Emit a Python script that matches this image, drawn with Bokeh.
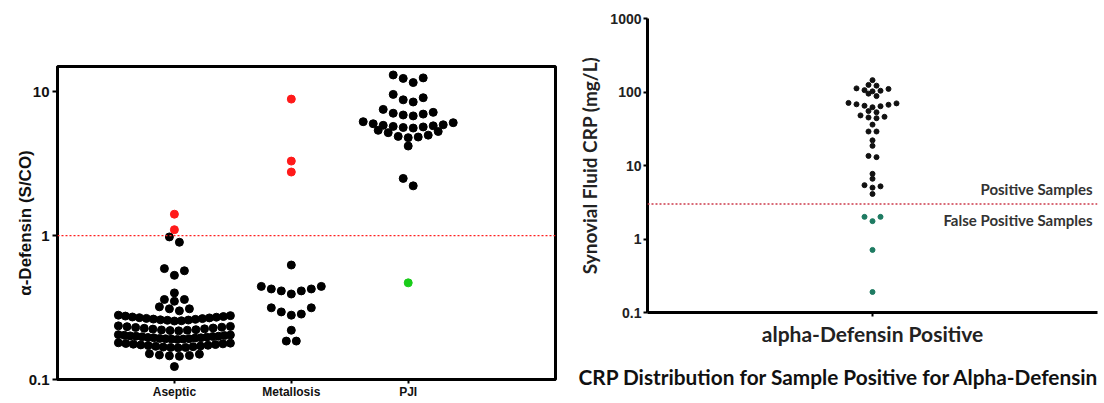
import numpy as np
from bokeh.plotting import figure
from bokeh.layouts import row, column
from bokeh.models import (FixedTicker, CustomJSTickFormatter, Span, Label, Title,
                          Range1d, ColumnDataSource)
from bokeh.embed import file_html
from bokeh.resources import INLINE

# ---------------- data ----------------
categories = ["Aseptic", "Metallosis", "PJI"]

aseptic_black = [0.123,
                 0.145, 0.146, 0.147, 0.148, 0.150, 0.151,
                 0.166, 0.167, 0.167, 0.168, 0.169, 0.170, 0.171, 0.172,
                 0.173, 0.174, 0.175, 0.176, 0.177, 0.178, 0.179, 0.180,
                 0.190, 0.191, 0.191, 0.192, 0.192, 0.193, 0.194, 0.195, 0.195, 0.196,
                 0.197, 0.198, 0.199, 0.200, 0.200, 0.201, 0.202, 0.203, 0.204, 0.205,
                 0.218, 0.219, 0.220, 0.221, 0.222, 0.224, 0.225, 0.227, 0.228,
                 0.230, 0.231, 0.233, 0.234, 0.236,
                 0.255, 0.256, 0.258, 0.259, 0.260, 0.262, 0.263, 0.265, 0.266,
                 0.268, 0.269, 0.271, 0.272, 0.274, 0.276, 0.278, 0.280,
                 0.30, 0.31, 0.31, 0.32,
                 0.35, 0.36, 0.36,
                 0.40,
                 0.53, 0.57, 0.59,
                 0.90, 0.98]
aseptic_red = [1.10, 1.41]

metallosis_black = [0.185, 0.185, 0.22, 0.28, 0.285, 0.295, 0.315, 0.315,
                    0.393, 0.413, 0.413, 0.426, 0.426, 0.444, 0.444, 0.625]
metallosis_red = [2.77, 3.3, 8.9]

pji_black = [2.22, 2.5, 4.2,
             4.8, 4.85, 4.9, 5.0, 5.2, 5.3, 5.4,
             5.6, 5.65, 5.7, 5.75, 5.8, 5.85, 5.9, 6.0, 6.1, 6.2,
             6.8, 6.9, 7.0, 7.1, 7.2, 7.55,
             8.5, 8.8, 9.1, 9.6,
             11.6, 12.4, 12.5, 13.1]
pji_green = [0.47]

left_cutoff = 1.0
left_yticks = [0.1, 1, 10]
left_ylabel = "α-Defensin (S/CO)"

crp_category = ["alpha-Defensin Positive"]
crp_black = [4.1, 5.0, 5.2, 5.4, 6.6, 7.7, 13, 13.5, 18.5, 22, 29, 29, 36,
             44, 45, 46, 48, 53, 55, 62, 64, 65, 67, 68, 70, 71,
             88, 95, 102, 104, 106, 110, 112, 122, 125, 145]
crp_teal = [0.19, 0.71, 1.75, 2.0, 2.0]
crp_cutoff = 3.0
right_yticks = [0.1, 1, 10, 100, 1000]
right_ylabel = "Synovial Fluid CRP (mg/L)"
right_title = "CRP Distribution for Sample Positive for Alpha-Defensin"
note_pos = "Positive Samples"
note_fp = "False Positive Samples"


# ---------------- swarm layout (Prism-like rows) ----------------
def swarm(values, h, step_px, max_w_px):
    v = np.sort(np.asarray(values, dtype=float))
    lv = np.log10(v)
    rows, cur = [], [0]
    for i in range(1, len(v)):
        if lv[i] - lv[cur[0]] > h:
            rows.append(cur)
            cur = [i]
        else:
            cur.append(i)
    rows.append(cur)
    offs = np.zeros(len(v))
    for r in rows:
        n = len(r)
        s = step_px if n < 2 else min(step_px, max_w_px / (n - 1))
        pos = [(k - (n - 1) / 2) * s for k in range(n)]
        pos.sort(key=lambda p: (round(abs(p), 6), -p))
        for idx, p in zip(r, pos):
            offs[idx] = p
    return v, offs


# ---------------- left figure ----------------
LW, LH = 568, 401
lb_left, lb_right, lb_top = 57, 13, 66
lx0, lx1 = 0.0, 4.26
l_ppu = (LW - lb_left - lb_right) / (lx1 - lx0)

p1 = figure(width=LW, height=LH, y_axis_type="log",
            x_range=Range1d(lx0, lx1), y_range=Range1d(0.1, 15),
            output_backend="svg", toolbar_location=None,
            min_border_left=lb_left, min_border_right=lb_right,
            min_border_top=lb_top, min_border_bottom=10,
            background_fill_color="white", border_fill_color="white")
p1.xgrid.grid_line_color = None
p1.ygrid.grid_line_color = None
p1.outline_line_color = "black"
p1.outline_line_width = 3
p1.outline_line_alpha = 1

groups = [
    (aseptic_black, 1, "#000000"), (aseptic_red, 1, "#ff1a1a"),
    (metallosis_black, 2, "#000000"), (metallosis_red, 2, "#ff1a1a"),
    (pji_black, 3, "#000000"), (pji_green, 3, "#19cc19"),
]
for vals, cx, col in groups:
    yv, off = swarm(vals, 0.055, 10, 112)
    src = ColumnDataSource(dict(x=cx + off / l_ppu, y=yv))
    p1.scatter("x", "y", source=src, size=8, fill_color=col, line_color=col)

p1.add_layout(Span(location=left_cutoff, dimension="width", line_color="#ff2020",
                   line_dash="2 2", line_width=1.3))

p1.yaxis.ticker = FixedTicker(ticks=left_yticks)
p1.yaxis.formatter = CustomJSTickFormatter(code="return tick.toString();")
p1.xaxis.ticker = FixedTicker(ticks=[1, 2, 3])
p1.xaxis.formatter = CustomJSTickFormatter(args=dict(names=categories),
                                           code="return names[Math.round(tick)-1] || '';")
for ax in (p1.xaxis[0], p1.yaxis[0]):
    ax.axis_line_width = 3
    ax.axis_line_color = "black"
    ax.major_tick_line_width = 2
    ax.major_tick_out = 5
    ax.major_tick_in = 0
    ax.minor_tick_line_color = None
    ax.major_label_text_font = "Liberation Sans"
    ax.major_label_text_font_style = "bold"
    ax.major_label_text_color = "#111111"
p1.yaxis.major_label_text_font_size = "15px"
p1.yaxis.major_label_standoff = 3
p1.xaxis.major_label_text_font_size = "12px"
p1.xaxis.major_label_standoff = 1
p1.xaxis.major_tick_out = 4
p1.yaxis.axis_label = left_ylabel
p1.yaxis.axis_label_text_font = "Liberation Sans"
p1.yaxis.axis_label_text_font_style = "bold"
p1.yaxis.axis_label_text_font_size = "17px"
p1.yaxis.axis_label_text_color = "#111111"
p1.yaxis.axis_label_standoff = -9

# ---------------- right figure ----------------
RW, RH = 536, 401
rb_left, rb_right, rb_top = 79, 7, 18
rx0, rx1 = 0.0, 2.0
r_ppu = (RW - rb_left - rb_right) / (rx1 - rx0)

p2 = figure(width=RW, height=RH, y_axis_type="log",
            x_range=Range1d(rx0, rx1), y_range=Range1d(0.1, 1000),
            output_backend="svg", toolbar_location=None,
            min_border_left=rb_left, min_border_right=rb_right,
            min_border_top=rb_top, min_border_bottom=10,
            background_fill_color="white", border_fill_color="white")
p2.xgrid.grid_line_color = None
p2.ygrid.grid_line_color = None
p2.outline_line_color = None

for vals, col in ((crp_black, "#111111"), (crp_teal, "#1e7b62")):
    yv, off = swarm(vals, 0.06, 8, 200)
    src = ColumnDataSource(dict(x=1 + off / r_ppu, y=yv))
    p2.scatter("x", "y", source=src, size=5, fill_color=col, line_color=col)

p2.add_layout(Span(location=crp_cutoff, dimension="width", line_color="#cc3a4a",
                   line_dash="2 2", line_width=1.5))

p2.yaxis.ticker = FixedTicker(ticks=right_yticks)
p2.yaxis.formatter = CustomJSTickFormatter(code="return tick.toString();")
p2.xaxis.ticker = FixedTicker(ticks=[1])
p2.xaxis.formatter = CustomJSTickFormatter(args=dict(names=crp_category),
                                           code="return names[Math.round(tick)-1] || '';")
for ax in (p2.xaxis[0], p2.yaxis[0]):
    ax.axis_line_width = 3
    ax.axis_line_color = "black"
    ax.major_tick_line_width = 2
    ax.major_tick_out = 4
    ax.major_tick_in = 0
    ax.minor_tick_line_color = None
p2.yaxis.major_label_text_font = "Liberation Sans"
p2.yaxis.major_label_text_font_style = "bold"
p2.yaxis.major_label_text_font_size = "14px"
p2.yaxis.major_label_text_color = "#222222"
p2.yaxis.major_label_standoff = 2
p2.yaxis.axis_label = right_ylabel
p2.yaxis.axis_label_text_font = "Lato"
p2.yaxis.axis_label_text_font_style = "bold"
p2.yaxis.axis_label_text_font_size = "19px"
p2.yaxis.axis_label_text_color = "#222222"
p2.yaxis.axis_label_standoff = 6

p2.xaxis.major_label_text_font = "Lato"
p2.xaxis.major_label_text_font_style = "bold"
p2.xaxis.major_label_text_font_size = "21px"
p2.xaxis.major_label_text_color = "#222222"
p2.xaxis.major_label_standoff = 4

p2.add_layout(Title(text=right_title, align="left", offset=-69,
                    text_font="Lato", text_font_style="bold",
                    text_font_size="20.8px", text_color="#111111",
                    standoff=26), "below")

p2.add_layout(Label(x=1.978, y=4.8, text=note_pos, text_align="right",
                    text_baseline="middle", text_font="Lato", text_font_style="bold",
                    text_font_size="15px", text_color="#333333"))
p2.add_layout(Label(x=1.978, y=1.82, text=note_fp, text_align="right",
                    text_baseline="middle", text_font="Lato", text_font_style="bold",
                    text_font_size="15px", text_color="#333333"))

layout = row(column(p1), column(p2))
open("out.html", "w").write(file_html(layout, INLINE))
